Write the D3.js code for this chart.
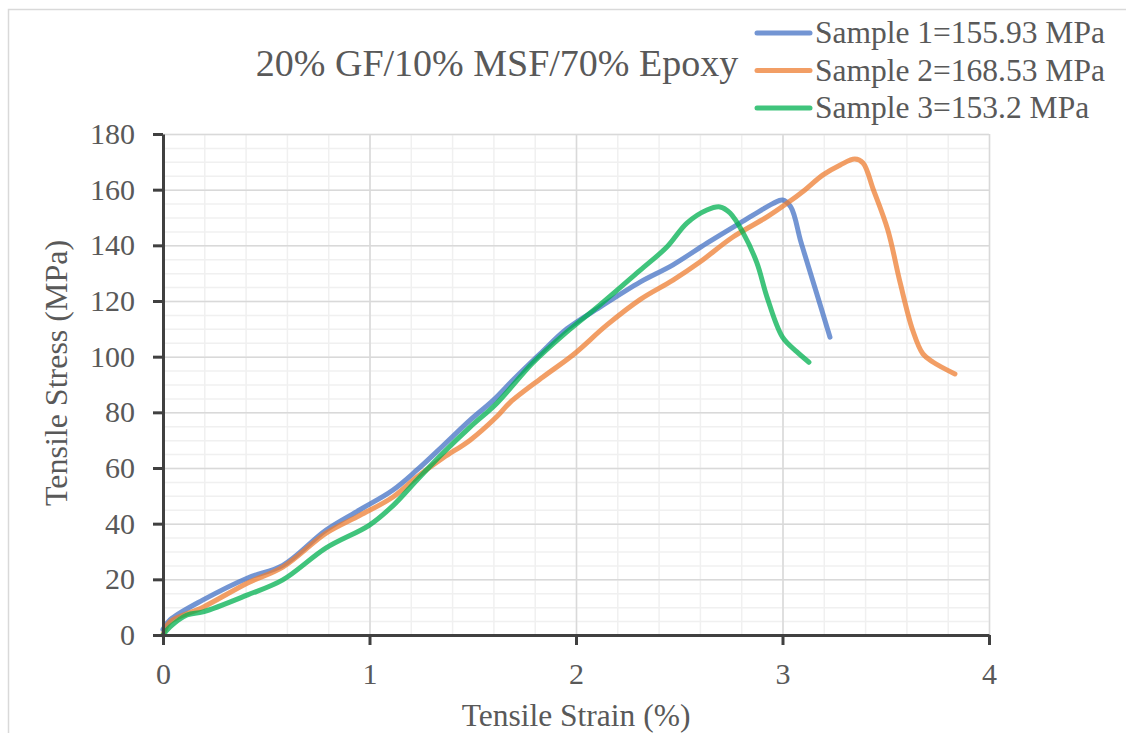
<!DOCTYPE html>
<html>
<head>
<meta charset="utf-8">
<script src="https://cdn.jsdelivr.net/npm/d3@7"></script>
<style>
  body { margin: 0; background: #fff; }
  text { font-family: "Times New Roman", "Liberation Serif", serif; fill: #595959; }
  .tick-label { font-size: 30px; }
</style>
</head>
<body>
<div id="chart"></div>
<script>
// chart data
const seriesNames = ['Sample 1=155.93 MPa', 'Sample 2=168.53 MPa', 'Sample 3=153.2 MPa'];
const seriesColors = ['#4472C4', '#ED7D31', '#00B050'];

const strain1 = [0, 0.034, 0.194, 0.41, 0.58, 0.79, 0.954, 1.114, 1.23, 1.356, 1.487, 1.6, 1.695, 1.826, 1.956, 2.116, 2.31, 2.47, 2.634, 2.794, 2.954, 3.0, 3.04, 3.09, 3.15, 3.23];
const stress1 = [2, 5.4, 12.6, 20.5, 25, 37.7, 45, 52.1, 59.3, 68, 77.2, 84.4, 91.6, 101, 110, 117.8, 126.8, 133, 140.8, 148, 155, 156.3, 153.8, 141, 126.5, 107];

const strain2 = [0, 0.034, 0.194, 0.41, 0.58, 0.79, 0.954, 1.114, 1.23, 1.356, 1.487, 1.617, 1.68, 1.84, 1.985, 2.15, 2.31, 2.47, 2.6, 2.76, 2.925, 3.02, 3.11, 3.196, 3.28, 3.35, 3.39, 3.44, 3.51, 3.57, 3.63, 3.68, 3.73, 3.835];
const stress2 = [0, 4.7, 10, 18.7, 24.4, 36.6, 43, 49.6, 56.8, 63.6, 70, 78.5, 83.5, 92.7, 100.6, 111.4, 120.5, 127.5, 134, 143, 150.2, 155, 160, 165.3, 168.9, 171, 169.6, 160, 145.5, 126.5, 109.6, 101, 98, 93.8];

const strain3 = [0, 0.034, 0.116, 0.194, 0.41, 0.58, 0.79, 1.0, 1.114, 1.23, 1.356, 1.487, 1.617, 1.79, 1.956, 2.116, 2.31, 2.44, 2.537, 2.634, 2.697, 2.746, 2.81, 2.876, 2.925, 3.0, 3.07, 3.128];
const stress3 = [0, 2.9, 7.2, 8.3, 14.4, 19.8, 31.3, 39.5, 46.5, 55.7, 65.4, 74.7, 83.3, 97.7, 108.9, 118.6, 131, 139.4, 148, 152.7, 153.8, 151.6, 144.4, 133.7, 121.4, 107, 101.7, 98];

const xTicks = [0, 1, 2, 3, 4];
const yTicks = [0, 20, 40, 60, 80, 100, 120, 140, 160, 180];

const chartTitle = '20% GF/10% MSF/70% Epoxy';
const xLabel = 'Tensile Strain (%)';
const yLabel = 'Tensile Stress (MPa)';

// size of the page and the plot area
const totalWidth = 1126, totalHeight = 733;
const margin = {top: 134, right: 137, bottom: 98, left: 163},
    width = totalWidth - margin.left - margin.right,
    height = totalHeight - margin.top - margin.bottom;

const svgRoot = d3.select('#chart')
  .append('svg')
    .attr('width', totalWidth)
    .attr('height', totalHeight);

// light frame round the chart
svgRoot.append('rect')
  .attr('x', 8.5)
  .attr('y', 9.5)
  .attr('width', totalWidth + 20)
  .attr('height', totalHeight + 20)
  .attr('fill', 'none')
  .attr('stroke', '#d9d9d9')
  .attr('stroke-width', 1.5);

const svg = svgRoot.append('g')
  .attr('transform', `translate(${margin.left},${margin.top})`);

// scales
const xScale = d3.scaleLinear().domain([0, 4]).range([0, width]);
const yScale = d3.scaleLinear().domain([0, 180]).range([height, 0]);

// minor grid
svg.append('g')
  .call(d3.axisBottom(xScale).ticks(20).tickSize(-height).tickFormat(''))
  .attr('transform', `translate(0,${height})`)
  .call(g => g.select('.domain').remove())
  .selectAll('line').attr('stroke', '#f0f0f0').attr('stroke-width', 1.5);
svg.append('g')
  .call(d3.axisLeft(yScale).ticks(45).tickSize(-width).tickFormat(''))
  .call(g => g.select('.domain').remove())
  .selectAll('line').attr('stroke', '#f0f0f0').attr('stroke-width', 1.5);

// major grid
svg.append('g')
  .attr('transform', `translate(0,${height})`)
  .call(d3.axisBottom(xScale).tickValues(xTicks).tickSize(-height).tickFormat(''))
  .call(g => g.select('.domain').remove())
  .selectAll('line').attr('stroke', '#d9d9d9').attr('stroke-width', 1.5);
svg.append('g')
  .call(d3.axisLeft(yScale).tickValues(yTicks).tickSize(-width).tickFormat(''))
  .call(g => g.select('.domain').remove())
  .selectAll('line').attr('stroke', '#d9d9d9').attr('stroke-width', 1.5);

// the three curves
const allStrain = [strain1, strain2, strain3];
const allStress = [stress1, stress2, stress3];
const line = d3.line()
  .x(d => xScale(d[0]))
  .y(d => yScale(d[1]))
  .curve(d3.curveCatmullRom.alpha(0.5));

allStrain.forEach((xs, i) => {
  const pts = xs.map((x, j) => [x, allStress[i][j]]);
  svg.append('path')
    .datum(pts)
    .attr('fill', 'none')
    .attr('stroke', seriesColors[i])
    .attr('stroke-opacity', 0.75)
    .attr('stroke-width', 5)
    .attr('stroke-linecap', 'round')
    .attr('stroke-linejoin', 'round')
    .attr('d', line);
});

// axes
const xAxis = svg.append('g')
  .attr('transform', `translate(0,${height})`)
  .call(d3.axisBottom(xScale).tickValues(xTicks).tickFormat(d3.format('d'))
    .tickSize(10).tickPadding(18).tickSizeOuter(0));
xAxis.select('.domain').attr('stroke', '#404040').attr('stroke-width', 3);
xAxis.selectAll('line').attr('stroke', '#404040').attr('stroke-width', 3);
xAxis.selectAll('text').attr('class', 'tick-label').attr('font-size', null).attr('font-family', null).attr('fill', null);

const yAxis = svg.append('g')
  .call(d3.axisLeft(yScale).tickValues(yTicks).tickSize(10).tickPadding(18).tickSizeOuter(0));
yAxis.select('.domain').attr('stroke', '#404040').attr('stroke-width', 3);
yAxis.selectAll('line').attr('stroke', '#404040').attr('stroke-width', 3);
yAxis.selectAll('text').attr('class', 'tick-label').attr('font-size', null).attr('font-family', null).attr('fill', null);

// axis labels
svg.append('text')
  .attr('text-anchor', 'middle')
  .attr('transform', `translate(${width / 2},${height + 91})`)
  .style('font-size', '31.5px')
  .text(xLabel);

svg.append('text')
  .attr('text-anchor', 'middle')
  .attr('transform', `translate(${-96},${239}) rotate(-90)`)
  .style('font-size', '32px')
  .text(yLabel);

// title
svgRoot.append('text')
  .attr('text-anchor', 'middle')
  .attr('x', 497)
  .attr('y', 76)
  .style('font-size', '38px')
  .text(chartTitle);

// legend
const legend = svgRoot.append('g');
seriesNames.forEach((name, i) => {
  const ly = 33 + i * 37.5;
  legend.append('line')
    .attr('x1', 757).attr('x2', 810)
    .attr('y1', ly).attr('y2', ly)
    .attr('stroke', seriesColors[i])
    .attr('stroke-opacity', 0.75)
    .attr('stroke-width', 5)
    .attr('stroke-linecap', 'round');
  legend.append('text')
    .attr('x', 815)
    .attr('y', ly + 10)
    .style('font-size', '31.5px')
    .text(name);
});
</script>
</body>
</html>
